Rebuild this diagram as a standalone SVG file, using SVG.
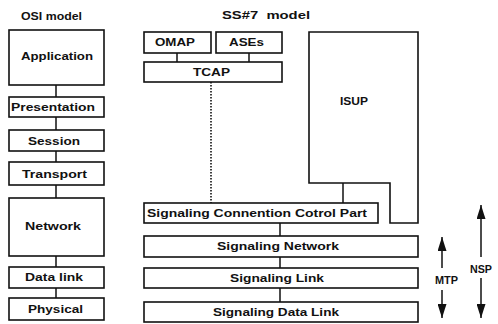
<svg xmlns="http://www.w3.org/2000/svg" width="498" height="324" viewBox="0 0 498 324">
<defs>
<style>
.b{fill:#fff;stroke:#111;stroke-width:1.6}
.t{font-family:"Liberation Sans",Arial,sans-serif;font-weight:bold;font-size:11.5px;fill:#111}
.c{stroke:#111;stroke-width:1.5;fill:none}
.d{stroke:#111;stroke-width:1.6;stroke-dasharray:1.5 1.5;fill:none}
</style>
<marker id="ah" markerUnits="userSpaceOnUse" markerWidth="14" markerHeight="9" viewBox="0 0 14 9" refX="14" refY="4.5" orient="auto">
<path d="M0,0 L14,4.5 L0,9 Z" fill="#111"/>
</marker>
</defs>
<rect width="498" height="324" fill="#fff"/>

<g id="titles">
<text class="t" x="21" y="20" textLength="61" lengthAdjust="spacingAndGlyphs">OSI model</text>
<text class="t" x="222" y="19" textLength="88" lengthAdjust="spacingAndGlyphs" xml:space="preserve">SS#7  model</text>
</g>

<g id="connectors">
<line class="c" x1="56" y1="85" x2="56" y2="97"/>
<line class="c" x1="56" y1="117" x2="56" y2="130"/>
<line class="c" x1="56" y1="151" x2="56" y2="162"/>
<line class="c" x1="56" y1="185" x2="56" y2="198"/>
<line class="c" x1="56" y1="256" x2="56" y2="267"/>
<line class="c" x1="56" y1="288" x2="56" y2="298"/>
<line class="c" x1="177" y1="53" x2="177" y2="62"/>
<line class="c" x1="249" y1="53" x2="249" y2="62"/>
<line class="d" x1="211" y1="82" x2="211" y2="203"/>
<line class="c" x1="343" y1="183" x2="343" y2="203"/>
<line class="c" x1="280" y1="223" x2="280" y2="236"/>
<line class="c" x1="280" y1="257" x2="280" y2="268"/>
<line class="c" x1="280" y1="288" x2="280" y2="302"/>
</g>

<g id="osi-application"><rect class="b" x="9" y="30" width="95" height="55"/><text class="t" x="21" y="60" textLength="72" lengthAdjust="spacingAndGlyphs">Application</text></g>
<g id="osi-presentation"><rect class="b" x="9" y="97" width="95" height="20"/><text class="t" x="11" y="111" textLength="84" lengthAdjust="spacingAndGlyphs">Presentation</text></g>
<g id="osi-session"><rect class="b" x="9" y="130" width="95" height="21"/><text class="t" x="28" y="145" textLength="52" lengthAdjust="spacingAndGlyphs">Session</text></g>
<g id="osi-transport"><rect class="b" x="9" y="162" width="95" height="23"/><text class="t" x="22" y="178" textLength="65" lengthAdjust="spacingAndGlyphs">Transport</text></g>
<g id="osi-network"><rect class="b" x="9" y="198" width="95" height="58"/><text class="t" x="25" y="230" textLength="56" lengthAdjust="spacingAndGlyphs">Network</text></g>
<g id="osi-datalink"><rect class="b" x="9" y="267" width="95" height="21"/><text class="t" x="25" y="281" textLength="58" lengthAdjust="spacingAndGlyphs">Data link</text></g>
<g id="osi-physical"><rect class="b" x="9" y="298" width="95" height="22"/><text class="t" x="28" y="313" textLength="55" lengthAdjust="spacingAndGlyphs">Physical</text></g>

<g id="ss7-omap"><rect class="b" x="144" y="32" width="67" height="21"/><text class="t" x="155" y="46" textLength="40" lengthAdjust="spacingAndGlyphs">OMAP</text></g>
<g id="ss7-ases"><rect class="b" x="216" y="32" width="66" height="21"/><text class="t" x="229" y="46" textLength="35" lengthAdjust="spacingAndGlyphs">ASEs</text></g>
<g id="ss7-tcap"><rect class="b" x="144" y="62" width="138" height="20"/><text class="t" x="193" y="76" textLength="37" lengthAdjust="spacingAndGlyphs">TCAP</text></g>
<g id="ss7-isup"><path class="b" d="M309,32 H418 V223 H390 V183 H309 Z"/><text class="t" x="340" y="105" textLength="28" lengthAdjust="spacingAndGlyphs">ISUP</text></g>
<g id="ss7-sccp"><rect class="b" x="144" y="203" width="234" height="20"/><text class="t" x="147" y="217" textLength="220" lengthAdjust="spacingAndGlyphs">Signaling Connention Cotrol Part</text></g>
<g id="ss7-network"><rect class="b" x="144" y="236" width="274" height="21"/><text class="t" x="217" y="250" textLength="122" lengthAdjust="spacingAndGlyphs">Signaling Network</text></g>
<g id="ss7-link"><rect class="b" x="144" y="268" width="274" height="20"/><text class="t" x="230" y="282" textLength="94" lengthAdjust="spacingAndGlyphs">Signaling Link</text></g>
<g id="ss7-datalink"><rect class="b" x="144" y="302" width="274" height="20"/><text class="t" x="213" y="316" textLength="126" lengthAdjust="spacingAndGlyphs">Signaling Data Link</text></g>

<g id="mtp">
<line class="c" x1="442" y1="268" x2="442" y2="237" marker-end="url(#ah)"/>
<line class="c" x1="442" y1="290" x2="442" y2="318" marker-end="url(#ah)"/>
<text class="t" x="435" y="284" textLength="23" lengthAdjust="spacingAndGlyphs">MTP</text>
</g>
<g id="nsp">
<line class="c" x1="481" y1="257" x2="481" y2="205" marker-end="url(#ah)"/>
<line class="c" x1="481" y1="278" x2="481" y2="318" marker-end="url(#ah)"/>
<text class="t" x="470" y="273" textLength="22" lengthAdjust="spacingAndGlyphs">NSP</text>
</g>
</svg>
